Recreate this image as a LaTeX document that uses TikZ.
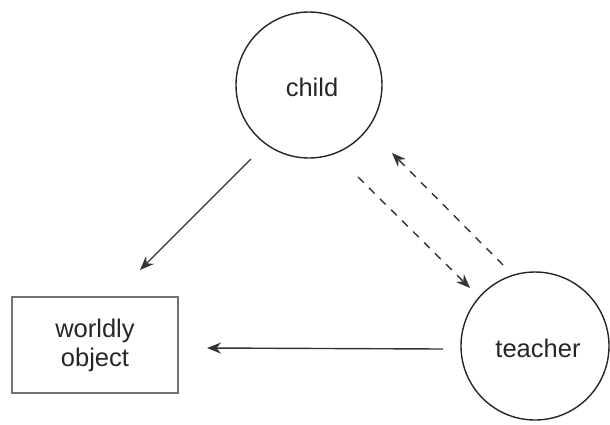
\documentclass[tikz,border=0pt]{standalone}
\usepackage{fontspec}
\setmainfont{Liberation Sans}
\usetikzlibrary{arrows.meta,calc}
\begin{document}
\begin{tikzpicture}[x=1pt,y=-1pt,
  lbl/.style={font=\fontsize{25.5}{31}\selectfont, text=black!85},
  roundnode/.style={circle, draw=black!85, line width=1.4pt, minimum size=146pt, inner sep=0pt, lbl},
  boxnode/.style={rectangle, draw=black!55, line width=1.6pt, minimum width=166pt, minimum height=96pt, inner sep=0pt, align=center, lbl},
  conn/.style={draw=black!80, line width=1.4pt, -{Stealth[length=14pt,width=11pt,inset=4.5pt]}},
  dashconn/.style={conn, dash pattern=on 8pt off 7.5pt}]
\useasboundingbox (0,0) rectangle (610,424);
\node[roundnode] (child) at (309,85) {};
\node[lbl] (childtxt) at (312,87) {child};
\node[roundnode, minimum size=148pt] (teacher) at (535,346) {};
\node[lbl] (teachertxt) at (538,348) {teacher};
\node[boxnode] (object) at (95,345) {worldly\\[-2pt]object};
% connector end points, placed relative to the nodes
\coordinate (c1) at ($(child.center)+(-58,74)$);
\coordinate (o1) at ($(object.center)+(45,-75)$);
\coordinate (t1) at ($(teacher.center)+(-92,3)$);
\coordinate (o2) at ($(object.center)+(112,3)$);
\coordinate (c2) at ($(child.center)+(49,92)$);
\coordinate (t2) at ($(teacher.center)+(-65,-58)$);
\coordinate (t3) at ($(teacher.center)+(-32,-81)$);
\coordinate (c3) at ($(child.center)+(83,68)$);
\draw[conn] (c1) -- (o1);
\draw[conn] (t1) -- (o2);
\draw[dashconn] (c2) -- (t2);
\draw[dashconn] (t3) -- (c3);
\end{tikzpicture}
\end{document}
